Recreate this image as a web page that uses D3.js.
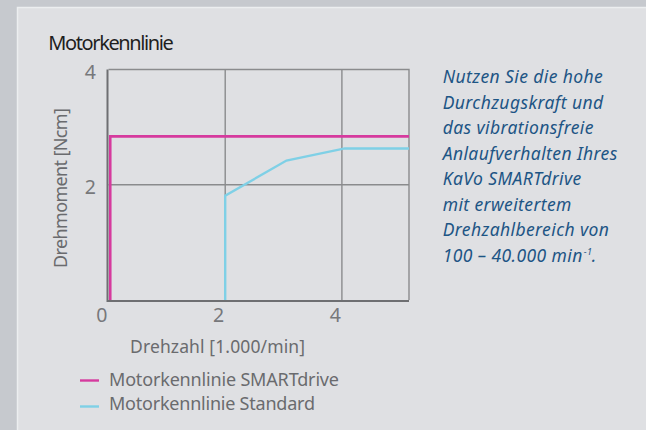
<!DOCTYPE html>
<html>
<head>
<meta charset="utf-8">
<script src="https://cdn.jsdelivr.net/npm/d3@7"></script>
<style>
  body { margin: 0; background: #c6c9ce; }
  svg { display: block; font-family: "Noto Sans", sans-serif; }
</style>
</head>
<body>
<svg width="646" height="430"></svg>
<script>
// Drehzahl in 1.000/min, Drehmoment in Ncm
var smartX = [0.03, 0.03, 5.15],
    smartY = [0, 2.84, 2.84];
var stdX = [2.0, 2.0, 3.05, 4.05, 5.15],
    stdY = [0, 1.81, 2.42, 2.63, 2.63];
var xTicks = [0, 2, 4],
    yTicks = [2, 4];
var legendNames = ["Motorkennlinie SMARTdrive", "Motorkennlinie Standard"],
    legendColors = ["#d63a9e", "#7fd0e6"];
var textLines = ["Nutzen Sie die hohe", "Durchzugskraft und", "das vibrationsfreie",
                 "Anlaufverhalten Ihres", "KaVo SMARTdrive", "mit erweitertem",
                 "Drehzahlbereich von", "100 – 40.000 min"];

var svg = d3.select("svg"),
    width = +svg.attr("width"),
    height = +svg.attr("height");

// panel
svg.append("rect")
    .attr("x", 17.5).attr("y", 7.5)
    .attr("width", width).attr("height", height)
    .attr("fill", "#dfe0e3")
    .attr("stroke", "#eceef0").attr("stroke-width", 1.5);

var x = d3.scaleLinear().domain([0, 5.15]).range([108.5, 409]),
    y = d3.scaleLinear().domain([0, 4]).range([300, 69.5]);

var plot = svg.append("g");

// grid
plot.selectAll(".vg").data([2, 4]).enter().append("line")
    .attr("x1", function(d) { return x(d); }).attr("x2", function(d) { return x(d); })
    .attr("y1", y(0)).attr("y2", y(4))
    .attr("stroke", "#8a8b8d").attr("stroke-width", 1.4);
plot.selectAll(".hg").data([2]).enter().append("line")
    .attr("x1", x(0)).attr("x2", x(5.15))
    .attr("y1", function(d) { return y(d); }).attr("y2", function(d) { return y(d); })
    .attr("stroke", "#8a8b8d").attr("stroke-width", 1.4);

// frame
plot.append("path")
    .attr("d", "M" + x(0) + "," + y(4) + "H" + x(5.15) + "V" + y(0))
    .attr("fill", "none").attr("stroke", "#8a8b8d").attr("stroke-width", 1.4);

// lines
var line = d3.line()
    .x(function(d) { return x(d[0]); })
    .y(function(d) { return y(d[1]); });

plot.append("path")
    .datum(d3.zip(stdX, stdY))
    .attr("d", line)
    .attr("fill", "none").attr("stroke", legendColors[1]).attr("stroke-width", 2.4);

plot.append("path")
    .datum(d3.zip(smartX, smartY))
    .attr("d", line)
    .attr("fill", "none").attr("stroke", legendColors[0]).attr("stroke-width", 2.6);

plot.append("path")
    .attr("d", "M" + (x(0) - 1) + "," + y(4) + "V" + (y(0) + 1) + "H" + x(5.15))
    .attr("fill", "none").attr("stroke", "#6e6f72").attr("stroke-width", 2);

// tick labels
svg.selectAll(".xt").data(xTicks).enter().append("text")
    .attr("x", function(d) { return x(d) - 1; })
    .attr("y", 321.5)
    .attr("text-anchor", "end")
    .attr("font-size", 19.5).attr("fill", "#77787b")
    .text(function(d) { return d; });
svg.selectAll(".yt").data(yTicks).enter().append("text")
    .attr("x", 96)
    .attr("y", function(d) { return y(d) + 9; })
    .attr("text-anchor", "end")
    .attr("font-size", 19.5).attr("fill", "#77787b")
    .text(function(d) { return d; });

// titles
svg.append("text")
    .attr("x", 48.3).attr("y", 50)
    .attr("font-size", 20).attr("fill", "#1e1e1e")
    .attr("textLength", 125.5).attr("lengthAdjust", "spacing")
    .text("Motorkennlinie");

svg.append("text")
    .attr("x", 130).attr("y", 353)
    .attr("font-size", 17.5).attr("fill", "#6a6b6e")
    .attr("textLength", 175).attr("lengthAdjust", "spacing")
    .text("Drehzahl [1.000/min]");

svg.append("text")
    .attr("transform", "translate(66.5,268) rotate(-90)")
    .attr("font-size", 18).attr("fill", "#6a6b6e")
    .attr("textLength", 160).attr("lengthAdjust", "spacing")
    .text("Drehmoment [Ncm]");

// legend
var legWidths = [230, 206];
var leg = svg.selectAll(".leg").data(legendNames).enter().append("g");
leg.append("line")
    .attr("x1", 80).attr("x2", 99)
    .attr("y1", function(d, i) { return 380.5 + i * 26; })
    .attr("y2", function(d, i) { return 380.5 + i * 26; })
    .attr("stroke", function(d, i) { return legendColors[i]; })
    .attr("stroke-width", 2.4);
leg.append("text")
    .attr("x", 109)
    .attr("y", function(d, i) { return 386 + i * 23.5; })
    .attr("font-size", 18).attr("fill", "#6a6b6e")
    .attr("textLength", function(d, i) { return legWidths[i]; })
    .attr("lengthAdjust", "spacing")
    .text(function(d) { return d; });

// side text
var sideX = 442.7, sideY = 83.3, lh = 25.5;
var side = svg.append("g")
    .attr("font-size", 17.5).attr("font-style", "italic").attr("fill", "#1d5585")
    .attr("letter-spacing", 0.4);
side.selectAll("text").data(textLines).enter().append("text")
    .attr("x", sideX)
    .attr("y", function(d, i) { return sideY + i * lh; })
    .text(function(d) { return d; });
var last = side.selectAll("text").filter(function(d, i) { return i === textLines.length - 1; });
var w = last.node().getComputedTextLength();
var lastY = sideY + (textLines.length - 1) * lh;
side.append("text")
    .attr("font-size", 9)
    .attr("x", sideX + w + 1).attr("y", lastY - 7)
    .text("-1");
side.append("text")
    .attr("x", sideX + w + 9).attr("y", lastY)
    .text(".");
</script>
</body>
</html>
